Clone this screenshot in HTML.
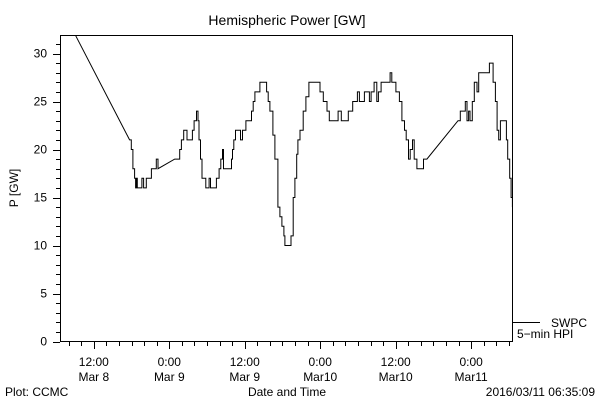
<!DOCTYPE html>
<html><head><meta charset="utf-8"><style>
body{margin:0;background:#fff}
svg{display:block;font-family:"Liberation Sans",sans-serif;font-size:12px}
</style></head><body>
<svg id="chart" width="600" height="400">
<text x="287" y="25" text-anchor="middle" font-size="14">Hemispheric Power [GW]</text>
<text transform="translate(18,188) rotate(-90)" text-anchor="middle">P [GW]</text>
<text x="287" y="396" text-anchor="middle">Date and Time</text>
<text x="5" y="396">Plot: CCMC</text>
<text x="595" y="396" text-anchor="end">2016/03/11 06:35:09</text>
<rect x="60.5" y="35.5" width="452" height="306" fill="none" stroke="#000"/>
<g id="yaxis"></g>
<g id="xaxis"></g>
<g id="series"></g>
<line x1="513" y1="322.5" x2="540" y2="322.5" stroke="#000"/>
<text x="551" y="327">SWPC</text>
<text x="517" y="338">5−min HPI</text>
</svg>
<script>
const xTickHours=[12,24,36,48,60,72];
const xTickTime=["12:00","0:00","12:00","0:00","12:00","0:00"];
const xTickDay=["Mar 8","Mar 9","Mar 9","Mar10","Mar10","Mar11"];
const yTicks=[0,5,10,15,20,25,30];
const hours=[9.08,17.69,17.96,18.22,18.49,18.65,18.76,18.92,19.17,19.65,19.92,20.35,21.15,21.94,22.2,24.86,25.66,25.93,26.3,26.82,27.68,27.94,28.32,28.57,28.73,28.96,29.21,29.48,29.8,30.33,30.55,31.5,31.92,32.19,32.46,32.62,32.99,33.9,34.06,34.26,34.53,35.11,35.33,35.65,36.18,37.08,37.34,37.61,38.41,39.47,39.73,40.0,40.48,40.8,41.27,41.59,41.91,42.22,42.38,43.08,43.35,43.71,43.98,44.26,44.46,44.78,45.3,45.73,46.2,47.7,47.97,48.5,49.08,49.45,50.79,50.84,51.31,51.36,52.38,52.47,53.17,53.91,54.23,55.03,55.82,56.1,56.57,57.0,57.26,57.69,58.85,59.12,59.39,60.03,60.6,60.99,61.4,61.67,62.04,62.31,62.68,62.95,63.38,64.17,64.43,64.97,69.91,70.28,70.96,71.07,71.35,71.6,71.82,72.03,72.19,72.51,72.94,73.2,73.74,74.79,74.9,75.22,75.49,75.86,76.13,76.38,76.65,77.29,77.61,77.82,78.14,78.36,78.56];
const power=[31.9,21,20,18,17,16,17,16,16,17,16,17,18,19,18,19,20,21,22,21,22,23,24,23,21,19,17,17,16,17,16,17,18,19,20,18,18,19,20,21,22,22,21,22,23,24,25,26,27,26,25,24,21.5,19,14,13,12,11,10,10,11,15,17,19.5,21,22,24,25.5,27,27,26,25,24,23,23,24,24,23,23,24,25,26,25,26,25,26,27,25,26,27,27,28,27,26,25,23,22,21,19,20,21,19,18,18,19,19,23,24,24,25,23,24,23,23,25,27,26,28,28,28,29,29,27,25,22,21,23,23,21,19,17,15,14];
const X0=60.5,X1=512.5,Y0=341.5,Y1=35.5,H0=6.7,H1=78.58,P0=0,P1=31.875;
function xs(h){return X0+(h-H0)/(H1-H0)*(X1-X0);}
function ys(p){return Y0-(p-P0)/(P1-P0)*(Y0-Y1);}
const NS="http://www.w3.org/2000/svg";
function mk(t,a,p){const e=document.createElementNS(NS,t);for(const k in a)e.setAttribute(k,a[k]);p.appendChild(e);return e;}
const ya=document.getElementById('yaxis'),xa=document.getElementById('xaxis'),sr=document.getElementById('series');
for(let v=0;v<=31;v++){const y=Math.round(ys(v))+0.5;const major=v%5===0;
 const t=mk('line',{x1:major?53:56,x2:60,y1:y,y2:y,stroke:'#000'},ya);
 
 }
yTicks.forEach(v=>{const t=mk('text',{x:47,y:ys(v)+4,'text-anchor':'end'},ya);t.textContent=v;
 
 });
for(let h=8;h<=78;h+=2){const x=Math.round(xs(h))+0.5;const major=h%12===0;
 const t=mk('line',{x1:x,x2:x,y1:342,y2:major?349:346,stroke:'#000'},xa);
 
 }
xTickHours.forEach((h,i)=>{const x=xs(h);
 const a=mk('text',{x:x,y:366,'text-anchor':'middle'},xa);a.textContent=xTickTime[i];
 
 
 const b=mk('text',{x:x,y:381,'text-anchor':'middle'},xa);b.textContent=xTickDay[i];
 
 });
const pts=[];
hours.forEach((h,i)=>{
 if(i>0 && h-hours[i-1]<=2){pts.push(xs(h).toFixed(1)+','+ys(power[i-1]).toFixed(1));}
 pts.push(xs(h).toFixed(1)+','+ys(power[i]).toFixed(1));
});
const pl=mk('polyline',{points:pts.join(' '),fill:'none',stroke:'#000','stroke-width':1},sr);


</script>
</body></html>
